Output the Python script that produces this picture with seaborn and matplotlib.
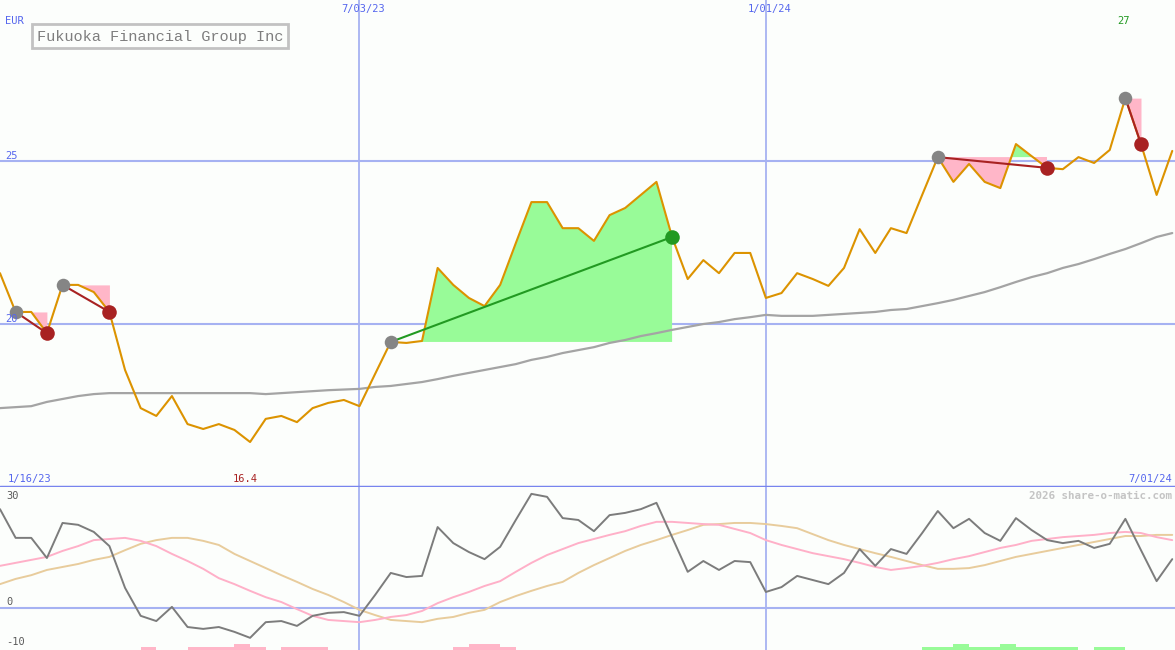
"""
Weekly price chart - Fukuoka Financial Group Inc (EUR)

Top panel: close price with long moving average and trade signals.
Bottom panel: momentum oscillator with two signal lines and histogram strip.
"""

import matplotlib.pyplot as plt
import numpy as np
import pandas as pd
import seaborn as sns
from matplotlib.patches import Rectangle

# ---------------------------------------------------------------------------
# Data (weekly, 76 weeks)
# ---------------------------------------------------------------------------
price = [
    21.56, 20.37, 20.37, 19.72, 21.20, 21.20, 20.98, 20.37, 18.59, 17.42,
    17.18, 17.79, 16.93, 16.78, 16.93, 16.75, 16.38, 17.09, 17.18, 16.99,
    17.42, 17.58, 17.67, 17.48, 18.47, 19.45, 19.42, 19.48, 21.72, 21.20,
    20.80, 20.55, 21.20, 22.48, 23.74, 23.74, 22.94, 22.94, 22.55, 23.34,
    23.56, 23.96, 24.36, 22.67, 21.38, 21.96, 21.56, 22.18, 22.18, 20.80,
    20.95, 21.56, 21.38, 21.17, 21.72, 22.91, 22.18, 22.94, 22.79, 23.96,
    25.12, 24.36, 24.91, 24.36, 24.17, 25.52, 25.15, 24.79, 24.75, 25.12,
    24.94, 25.34, 26.93, 25.52, 23.96, 25.31,
]
moving_avg = [
    17.42, 17.45, 17.48, 17.61, 17.70, 17.79, 17.85, 17.88, 17.88, 17.88,
    17.88, 17.88, 17.88, 17.88, 17.88, 17.88, 17.88, 17.85, 17.88, 17.91,
    17.94, 17.97, 17.99, 18.01, 18.07, 18.10, 18.16, 18.22, 18.31, 18.41,
    18.50, 18.59, 18.68, 18.77, 18.90, 18.99, 19.11, 19.20, 19.29, 19.42,
    19.51, 19.63, 19.72, 19.82, 19.91, 20.00, 20.06, 20.15, 20.21, 20.28,
    20.25, 20.25, 20.25, 20.28, 20.31, 20.34, 20.37, 20.43, 20.46, 20.55,
    20.64, 20.74, 20.86, 20.98, 21.13, 21.29, 21.44, 21.56, 21.72, 21.84,
    21.99, 22.15, 22.30, 22.48, 22.67, 22.79,
]
momentum = [
    26.5, 18.8, 18.8, 13.4, 22.8, 22.3, 20.4, 16.6, 5.4, -2.1,
    -3.5, 0.3, -5.1, -5.6, -5.1, -6.4, -8.0, -3.8, -3.5, -4.8,
    -2.1, -1.3, -1.1, -2.1, 3.5, 9.4, 8.3, 8.6, 21.7, 17.4,
    15.0, 13.1, 16.4, 23.6, 30.6, 29.8, 24.1, 23.6, 20.6, 24.9,
    25.5, 26.5, 28.2, 19.0, 9.7, 12.6, 10.2, 12.6, 12.3, 4.3,
    5.6, 8.6, 7.5, 6.4, 9.4, 15.8, 11.3, 15.8, 14.5, 20.1,
    26.0, 21.4, 23.9, 20.1, 18.0, 24.1, 20.9, 18.2, 17.4, 18.0,
    16.1, 17.2, 23.9, 15.5, 7.2, 13.1,
]
signal_fast = [
    11.3, 12.1, 12.9, 13.7, 15.3, 16.6, 18.2, 18.5, 18.8, 18.0,
    16.6, 14.5, 12.6, 10.5, 8.0, 6.4, 4.6, 2.9, 1.6, -0.3,
    -2.1, -3.2, -3.5, -3.8, -3.2, -2.4, -1.9, -0.8, 1.3, 2.9,
    4.3, 5.9, 7.2, 9.7, 12.1, 14.2, 15.8, 17.4, 18.5, 19.6,
    20.6, 22.0, 23.1, 23.1, 22.8, 22.5, 22.3, 21.2, 20.1, 18.2,
    16.9, 15.8, 14.7, 13.9, 13.1, 12.1, 11.0, 10.2, 10.7, 11.3,
    12.1, 13.1, 13.9, 15.0, 16.1, 16.9, 18.0, 18.5, 19.0, 19.3,
    19.6, 20.1, 20.4, 20.1, 19.0, 18.2,
]
signal_slow = [
    6.4, 7.8, 8.8, 10.2, 11.0, 11.8, 12.9, 13.7, 15.5, 17.2,
    18.2, 18.8, 18.8, 18.0, 16.9, 14.5, 12.6, 10.7, 8.8, 7.0,
    5.1, 3.5, 1.6, -0.5, -1.9, -3.2, -3.5, -3.8, -2.9, -2.4,
    -1.3, -0.5, 1.6, 3.2, 4.6, 5.9, 7.0, 9.4, 11.5, 13.4,
    15.3, 16.9, 18.2, 19.6, 20.9, 22.3, 22.5, 22.8, 22.8, 22.5,
    22.0, 21.4, 19.8, 18.2, 16.9, 15.8, 14.7, 13.7, 12.6, 11.5,
    10.5, 10.5, 10.7, 11.5, 12.6, 13.7, 14.5, 15.3, 16.1, 16.9,
    17.7, 18.5, 19.3, 19.3, 19.6, 19.6,
]
# histogram strip at the bottom: sign = direction, size = strength (1 or 2)
strip = [
    0, 0, 0, 0, 0, 0, 0, 0, 0, -1,
    0, 0, -1, -1, -1, -2, -1, 0, -1, -1,
    -1, 0, 0, 0, 0, 0, 0, 0, 0, -1,
    -2, -2, -1, 0, 0, 0, 0, 0, 0, 0,
    0, 0, 0, 0, 0, 0, 0, 0, 0, 0,
    0, 0, 0, 0, 0, 0, 0, 0, 0, 1,
    1, 2, 1, 1, 2, 1, 1, 1, 1, 0,
    1, 1, 0, 0, 0, 0,
]
# trades as (entry week, exit week)
trades = [(1, 3), (4, 7), (25, 43), (60, 67), (72, 73)]

grid_weeks = [23, 49]
grid_labels = ["7/03/23", "1/01/24"]
price_grid = [20, 25]
osc_ticks = [30, 0, -10]
start_label = "1/16/23"
end_label = "7/01/24"
title = "Fukuoka Financial Group Inc"
currency = "EUR"

# ---------------------------------------------------------------------------
# Style
# ---------------------------------------------------------------------------
W, H = 1175, 650
BG = "#fcfefc"
GRID = "#a6b2f2"
SEP = "#7884ee"
LABEL_BLUE = "#5566ee"
PRICE_COL = "#dc9300"
MA_COL = "#a4a4a4"
PINK = "#ffb6c8"
GREEN_FILL = "#98fb98"
LOSS = "#a82222"
WIN = "#229a22"
MONO = ["DejaVu Sans Mono"]

sns.set_style("white")
plt.rcParams["font.family"] = MONO


def fig_xy(x, y):
    """pixel position -> figure fraction"""
    return x / W, 1 - y / H


weeks = np.arange(len(price))
df = pd.DataFrame(
    {
        "week": weeks,
        "price": price,
        "ma": moving_avg,
        "mom": momentum,
        "fast": signal_fast,
        "slow": signal_slow,
        "strip": strip,
    }
)

fig = plt.figure(figsize=(W / 100, H / 100), dpi=100, facecolor=BG)
split = (H - 487) / H
ax = fig.add_axes([0, split, 1, 1 - split])
ax2 = fig.add_axes([0, 0, 1, split])
xmax = W / 15.63

for a in (ax, ax2):
    a.set_facecolor(BG)
    a.set_xlim(0, xmax)
    for s in a.spines.values():
        s.set_visible(False)
    a.set_xticks([])
    a.set_yticks([])
    for gw in grid_weeks:
        a.axvline(gw, color=GRID, lw=1.3, zorder=1)

ax.set_ylim(15.0, 29.94)
ax2.set_ylim(-11.26, 32.44)

# ---------------------------------------------------------------------------
# Top panel
# ---------------------------------------------------------------------------
for g in price_grid:
    ax.axhline(g, color=GRID, lw=1.5, zorder=1)

for entry, exit_ in trades:
    seg = df.iloc[entry : exit_ + 1]
    level = price[entry]
    ax.fill_between(seg["week"], level, seg["price"], where=seg["price"] >= level,
                    interpolate=True, color=GREEN_FILL, lw=0, zorder=2)
    ax.fill_between(seg["week"], level, seg["price"], where=seg["price"] <= level,
                    interpolate=True, color=PINK, lw=0, zorder=2)

sns.lineplot(data=df, x="week", y="ma", ax=ax, color=MA_COL, lw=1.6, zorder=3)
sns.lineplot(data=df, x="week", y="price", ax=ax, color=PRICE_COL, lw=1.5, zorder=4)

for entry, exit_ in trades:
    col = WIN if price[exit_] > price[entry] else LOSS
    ax.plot([entry, exit_], [price[entry], price[exit_]], color=col, lw=1.5, zorder=5)
    ax.scatter([entry], [price[entry]], s=95, color="#858585", zorder=6, lw=0)
    ax.scatter([exit_], [price[exit_]], s=110, color=col, zorder=6, lw=0)

ax.axhline(15.0, color=SEP, lw=2.5, zorder=7, clip_on=False)
ax.set_xlabel("")
ax.set_ylabel("")

# ---------------------------------------------------------------------------
# Bottom panel
# ---------------------------------------------------------------------------
ax2.axhline(0, color=GRID, lw=1.5, zorder=1)
strip_h = 0.8
colors = [PINK if v < 0 else GREEN_FILL for v in strip]
ax2.bar(weeks, [abs(v) * strip_h for v in strip], width=1.0, align="edge",
        bottom=-11.26, color=colors, lw=0, zorder=2)
sns.lineplot(data=df, x="week", y="slow", ax=ax2, color="#e8cc9c", lw=1.4, zorder=3)
sns.lineplot(data=df, x="week", y="fast", ax=ax2, color="#ffb0c8", lw=1.4, zorder=3)
sns.lineplot(data=df, x="week", y="mom", ax=ax2, color="#7c7c7c", lw=1.4, zorder=4)
ax2.set_xlabel("")
ax2.set_ylabel("")

# ---------------------------------------------------------------------------
# Labels
# ---------------------------------------------------------------------------
fig.text(*fig_xy(5, 21), currency, color=LABEL_BLUE, fontsize=7.5, va="center")
for g, y in zip(price_grid, [319, 156]):
    fig.text(*fig_xy(5, y), str(g), color=LABEL_BLUE, fontsize=7.5, va="center")
for gw, lab in zip(grid_weeks, grid_labels):
    fig.text(*fig_xy(gw * 15.63 + 4, 9), lab, color=LABEL_BLUE, fontsize=7.5,
             ha="center", va="center")

imax = int(np.argmax(price))
imin = int(np.argmin(price))
fig.text(*fig_xy(imax * 15.63 - 2, 21), f"{max(price):.0f}", color=WIN,
         fontsize=7.5, ha="center", va="center")
fig.text(*fig_xy(imin * 15.63 - 5, 479), f"{min(price):.1f}", color=LOSS,
         fontsize=7.5, ha="center", va="center")
fig.text(*fig_xy(8, 479), start_label, color=LABEL_BLUE, fontsize=7.5, va="center")
fig.text(*fig_xy(1172, 479), end_label, color=LABEL_BLUE, fontsize=7.5,
         ha="right", va="center")
fig.text(*fig_xy(1172, 496), "2026 share-o-matic.com", color="#c4c4c4",
         fontsize=7.8, fontweight="bold", ha="right", va="center")
for t, y in zip(osc_ticks, [496, 602, 642]):
    fig.text(*fig_xy(6, y), str(t), color="#5a5a5a", fontsize=7.5, va="center")

# title box
x0, y0 = fig_xy(32, 48)
fig.add_artist(Rectangle((x0, y0), 256 / W, 24 / H, transform=fig.transFigure,
                         fill=False, ec="#c2c2c2", lw=2))
fig.text(*fig_xy(160, 36.5), title, color="#7e7e7e", fontsize=11,
         family=["Liberation Mono", "DejaVu Sans Mono"], ha="center", va="center")

fig.savefig("out.png", dpi=100, facecolor=BG)
